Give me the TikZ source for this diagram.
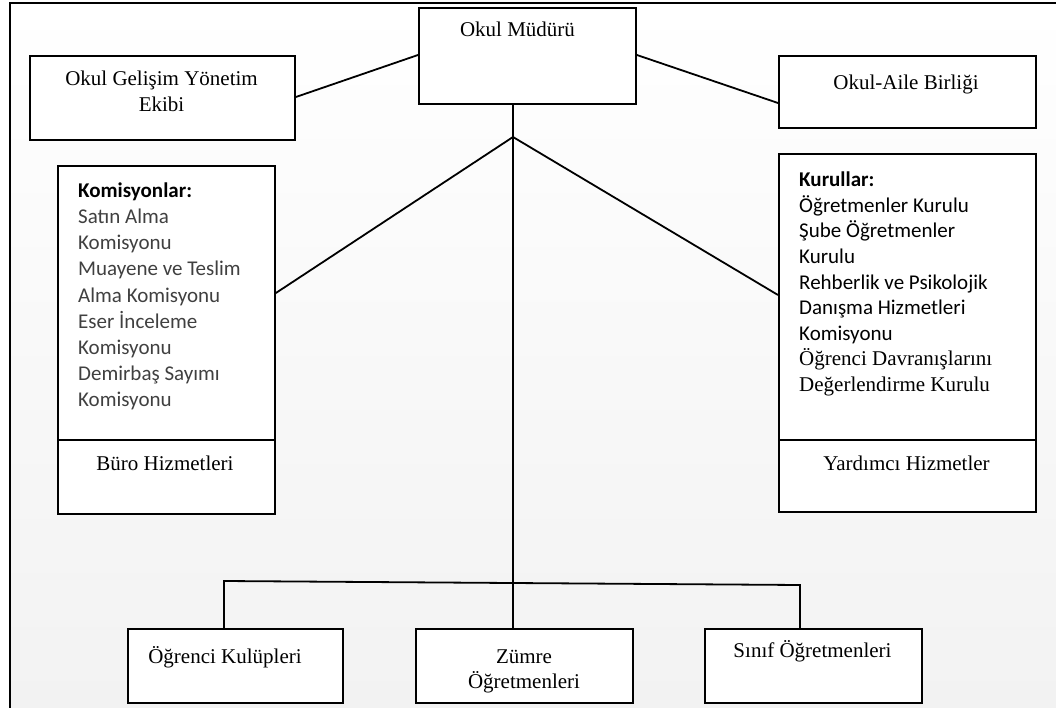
\documentclass[tikz,border=0pt]{standalone}
\usepackage{fontspec}
\setmainfont{Liberation Serif}
\newfontfamily\calib{Carlito}
\usetikzlibrary{calc}
\definecolor{bgbot}{RGB}{242,242,242}
\definecolor{listgray}{RGB}{64,64,64}
\tikzset{
  box/.style={draw=black, line width=1.9pt, fill=white, inner sep=0pt, anchor=north west},
  conn/.style={line width=1.8pt, draw=black},
  tt/.style={font=\fontsize{21}{26}\selectfont, inner sep=0pt, anchor=base, text=black},
  ls/.style={font=\calib\fontsize{21}{26}\selectfont, inner sep=0pt, anchor=base west},
}
\begin{document}
\begin{tikzpicture}[x=1pt,y=-1pt]
\useasboundingbox (0,0) rectangle (1056,708);
% background and frame
\shade[top color=white, bottom color=bgbot] (10,3) rectangle (1056,708);
\draw[line width=2.6pt] (10,708) -- (10,3) -- (1056,3);

% boxes
\node[box, minimum width=217pt, minimum height=96pt] (mud) at (418,7) {};
\node[box, minimum width=265pt, minimum height=84pt] (ogye) at (29,55) {};
\node[box, minimum width=257pt, minimum height=72pt] (oab) at (778,55) {};
\node[box, minimum width=217pt, minimum height=274pt] (kom) at (57,165) {};
\node[box, minimum width=217pt, minimum height=74pt] (buro) at (57,439) {};
\node[box, minimum width=257pt, minimum height=286pt] (kur) at (778,153) {};
\node[box, minimum width=257pt, minimum height=72pt] (yard) at (778,439) {};
\node[box, minimum width=215pt, minimum height=74pt] (ok) at (127,628) {};
\node[box, minimum width=217pt, minimum height=74pt] (zum) at (415,628) {};
\node[box, minimum width=217pt, minimum height=74pt] (sin) at (704,628) {};

% box texts
\node[tt] (tmud) at (517.5,37) {Okul Müdürü};
\node[tt] (togye1) at (161.5,86) {Okul Gelişim Yönetim};
\node[tt] (togye2) at (161.5,111.5) {Ekibi};
\node[tt] (toab) at (906,90) {Okul-Aile Birliği};
\node[tt] (tburo) at (165,470) {Büro Hizmetleri};
\node[tt] (tyard) at (906.5,470) {Yardımcı Hizmetler};
\node[tt] (tok) at (225,663) {Öğrenci Kulüpleri};
\node[tt] (tzum1) at (524,663) {Zümre};
\node[tt] (tzum2) at (524,688) {Öğretmenleri};
\node[tt] (tsin) at (812.5,657.5) {Sınıf Öğretmenleri};

% Komisyonlar list
\node[ls, text=black] (khead) at (78,198) {\bfseries Komisyonlar:};
\foreach \t [count=\i] in {Satın Alma, Komisyonu, Muayene ve Teslim, Alma Komisyonu, Eser İnceleme, Komisyonu, Demirbaş Sayımı, Komisyonu}
  \node[ls, text=listgray] (kl\i) at (78,198+26*\i) {\t};

% Kurullar list
\node[ls, text=black] (rhead) at (799,187) {\bfseries Kurullar:};
\foreach \t [count=\i] in {Öğretmenler Kurulu, Şube Öğretmenler, Kurulu, Rehberlik ve Psikolojik, Danışma Hizmetleri, Komisyonu}
  \node[ls, text=black] (rl\i) at (799,187+25.5*\i) {\t};
\node[tt, anchor=base west] (rl7) at (799,365.5) {Öğrenci Davranışlarını};
\node[tt, anchor=base west] (rl8) at (799,391) {Değerlendirme Kurulu};

% connectors
\coordinate (j) at (513,137);
\coordinate (bl) at (224,581);
\coordinate (br) at (800,585);
\draw[conn] ($(mud.north west)+(0,48)$) -- ($(ogye.north east)+(0,42)$);
\draw[conn] ($(mud.north east)+(0,48)$) -- ($(oab.north west)+(0,48)$);
\draw[conn] (j |- mud.south) -- (j);
\draw[conn] (j) -- ($(kom.north east)+(0,128)$);
\draw[conn] (j) -- ($(kur.north west)+(0,142)$);
\draw[conn] (j) -- (j |- zum.north);
\draw[conn] (bl |- ok.north) -- (bl) -- (br) -- (br |- sin.north);
\end{tikzpicture}
\end{document}
